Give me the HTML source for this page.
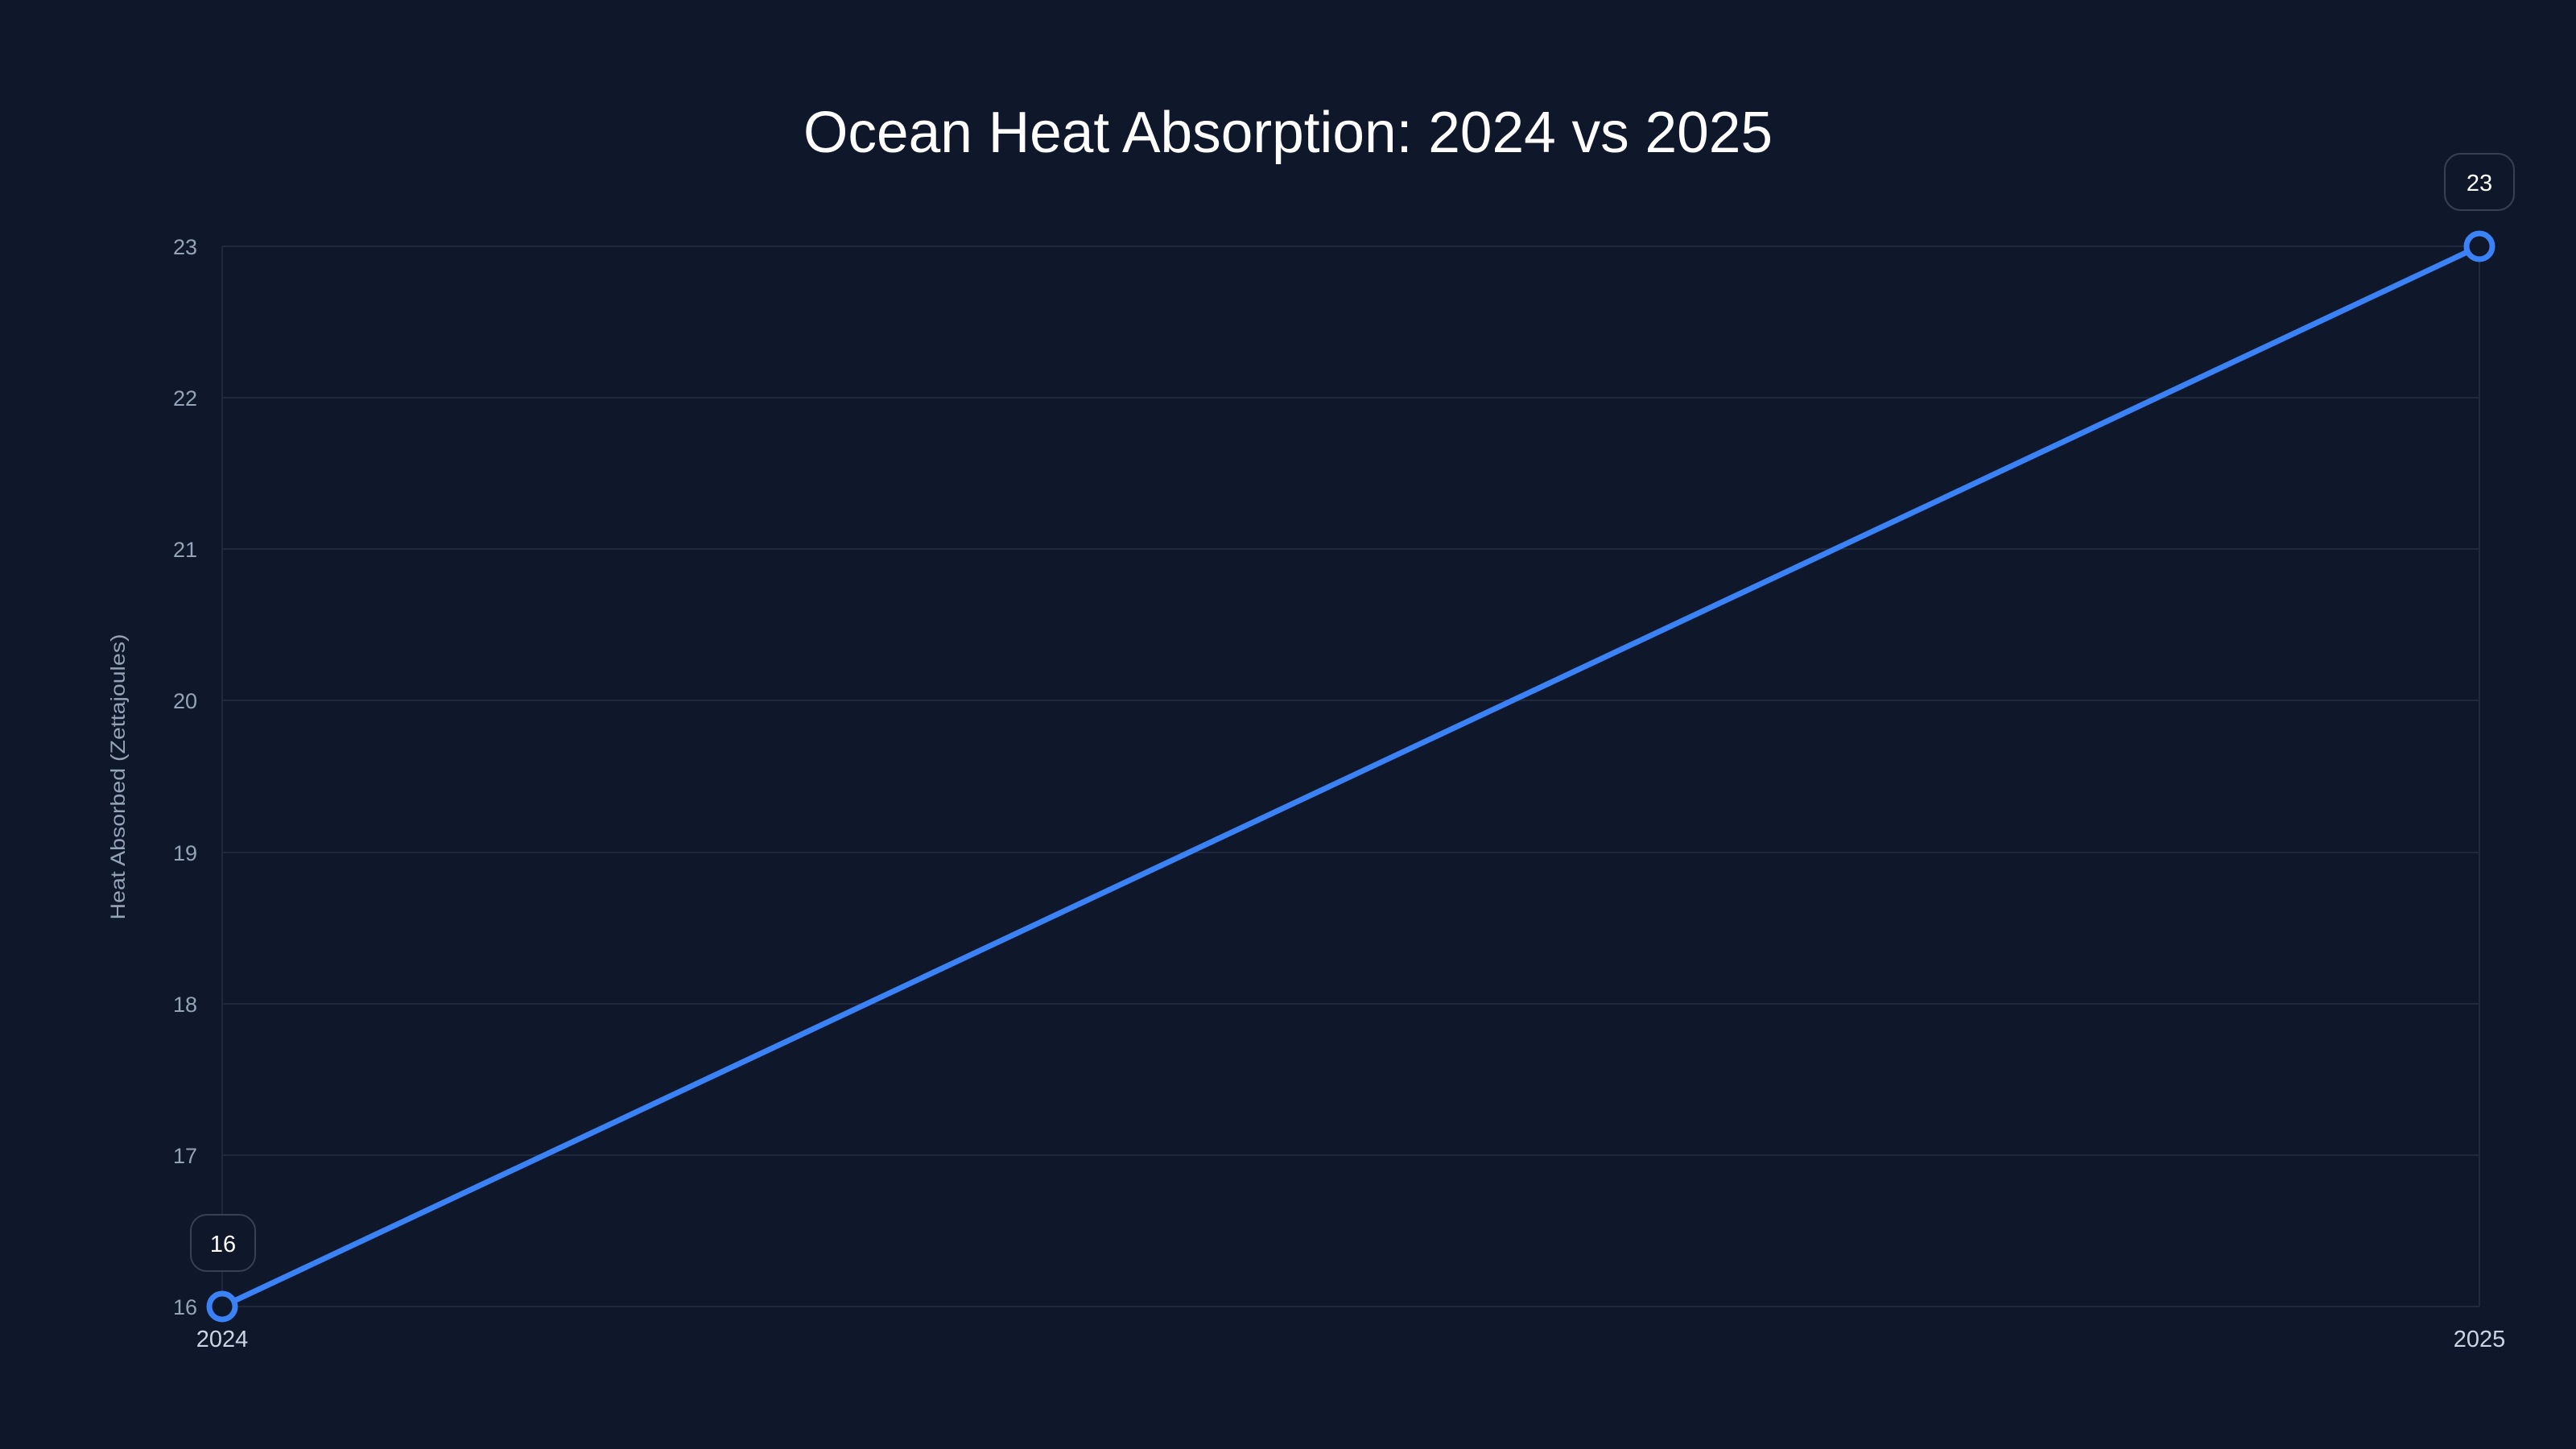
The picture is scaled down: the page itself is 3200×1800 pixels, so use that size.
<!DOCTYPE html>
<html><head><meta charset="utf-8"><style>
html,body{margin:0;padding:0;background:#0f172a;}
svg{display:block;font-family:"Liberation Sans",sans-serif;}
</style></head><body>
<svg width="3200" height="1800" viewBox="0 0 3200 1800" xmlns="http://www.w3.org/2000/svg">
<rect width="3200" height="1800" fill="#0f172a"/>
<text x="1600" y="189" text-anchor="middle" font-size="72" fill="#ffffff" textLength="1204" lengthAdjust="spacingAndGlyphs">Ocean Heat Absorption: 2024 vs 2025</text>
<g stroke="#1e293b" stroke-width="2">
<line x1="276" y1="306" x2="3080" y2="306"/>
<line x1="276" y1="494" x2="3080" y2="494"/>
<line x1="276" y1="682" x2="3080" y2="682"/>
<line x1="276" y1="870" x2="3080" y2="870"/>
<line x1="276" y1="1059" x2="3080" y2="1059"/>
<line x1="276" y1="1247" x2="3080" y2="1247"/>
<line x1="276" y1="1435" x2="3080" y2="1435"/>
<line x1="276" y1="1623" x2="3080" y2="1623"/>
<line x1="276" y1="306" x2="276" y2="1623"/>
<line x1="3080" y1="306" x2="3080" y2="1623"/>
</g>
<g font-size="27" fill="#94a3b8" text-anchor="end">
<text x="245" y="316">23</text>
<text x="245" y="504">22</text>
<text x="245" y="692">21</text>
<text x="245" y="880">20</text>
<text x="245" y="1069">19</text>
<text x="245" y="1257">18</text>
<text x="245" y="1445">17</text>
<text x="245" y="1633">16</text>
</g>
<text transform="translate(155,965) rotate(-90)" text-anchor="middle" font-size="25" fill="#94a3b8" textLength="355" lengthAdjust="spacingAndGlyphs">Heat Absorbed (Zettajoules)</text>
<g font-size="29" fill="#cbd5e1" text-anchor="middle">
<text x="276" y="1673">2024</text>
<text x="3080" y="1673">2025</text>
</g>
<line x1="276" y1="1623" x2="3080" y2="306" stroke="#3b82f6" stroke-width="7"/>
<circle cx="276" cy="1623" r="16" fill="#0f172a" stroke="#3b82f6" stroke-width="7"/>
<circle cx="3080" cy="306" r="16" fill="#0f172a" stroke="#3b82f6" stroke-width="7"/>
<rect x="237" y="1509" width="80" height="70" rx="20" fill="#0f172a" stroke="#374151" stroke-width="2"/>
<text x="277" y="1555" text-anchor="middle" font-size="29" fill="#ffffff">16</text>
<rect x="3037" y="191" width="86" height="70" rx="20" fill="#0f172a" stroke="#374151" stroke-width="2"/>
<text x="3080" y="237" text-anchor="middle" font-size="29" fill="#ffffff">23</text>
</svg>
</body></html>
